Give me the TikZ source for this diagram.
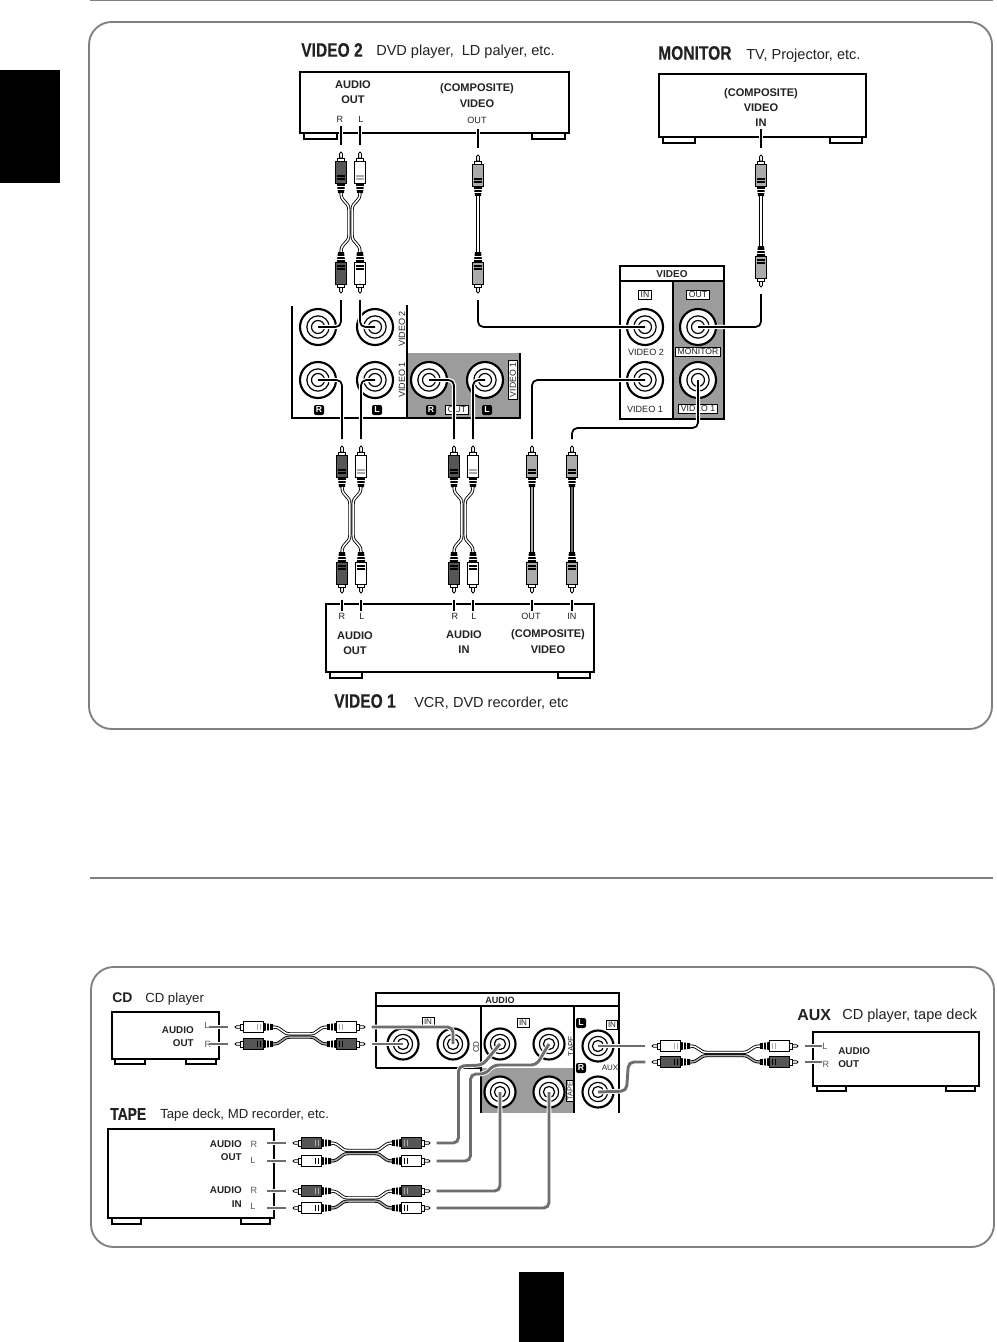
\documentclass[tikz,border=0pt]{standalone}
\usepackage{fontspec}
\setmainfont{Liberation Sans}
\newfontfamily\narrowhead[FakeStretch=0.8,FakeBold=0.2]{Liberation Sans Bold}
\usetikzlibrary{calc,fit}
\definecolor{ruleg}{HTML}{808080}
\definecolor{panelg}{HTML}{9C9C9C}
\definecolor{plugdk}{HTML}{565656}
\definecolor{plugmd}{HTML}{ABABAB}
\definecolor{wireg}{HTML}{6E6E6E}
\definecolor{inkk}{HTML}{222222}
\tikzset{
  frame/.style={draw=ruleg,line width=1.4pt,rounded corners=17pt},
  panel/.style={draw=black,line width=1.1pt},
  devbox/.style={rectangle,draw=black,line width=1.3pt,inner sep=0pt,fill=white},
  foot/.style={draw=black,line width=1pt,fill=white},
  jack/.style={circle,draw=black,fill=white,line width=1.6pt,inner sep=0pt,minimum size=#1*.75pt,
    path picture={\draw[black,line width=.9pt] (path picture bounding box.center) circle ({#1*.31}) circle ({#1*.18});}},
  jack/.default=36,
  wire/.style={draw=black,line width=1.3pt,rounded corners=4pt,preaction={draw=white,line width=3.2pt}},
  wiregr/.style={draw=wireg,line width=2.2pt,rounded corners=4pt,preaction={draw=white,line width=3.6pt}},
  cable/.style={draw=black,line width=.65pt,double=#1,double distance=1.1pt},
  cable/.default=white,
  badge/.style={fill=black,rounded corners=1.5pt,text=white,font=\bfseries\fontsize{6.5}{7}\selectfont,minimum size=7.5pt,inner sep=0pt},
  tag/.style={draw=black,fill=white,line width=.7pt,text=inkk,font=\fontsize{6.5}{7}\selectfont,inner xsep=1.5pt,inner ysep=1pt},
  small/.style={text=inkk,font=\fontsize{6.8}{7}\selectfont,inner sep=0pt},
  bold/.style={text=inkk,font=\bfseries\fontsize{8.3}{9}\selectfont,inner sep=0pt},
  boldlow/.style={text=inkk,font=\bfseries\fontsize{7.4}{8}\selectfont,inner sep=0pt},
  head/.style={anchor=west,text=inkk,font=\narrowhead\fontsize{14.6}{15}\selectfont,inner sep=0pt},
  note/.style={anchor=west,text=inkk,font=\fontsize{10.9}{12}\selectfont,inner sep=0pt},
  notelow/.style={anchor=west,text=inkk,font=\fontsize{9.9}{11}\selectfont,inner sep=0pt},
  pics/rca/.style 2 args={code={
    \draw[black,line width=.6pt,fill=white] (-1.4,6) -- (-1.4,1.5) -- (0,0) -- (1.4,1.5) -- (1.4,6) -- cycle;
    \draw[black,line width=.6pt,fill=white] (-3.2,6) rectangle (3.2,9);
    \draw[black,line width=.7pt,fill=#1] (-5.5,9) rectangle (5.5,31);
    \draw[#2,line width=.9pt] (-3.6,24) -- (3.6,24) (-3.6,27) -- (3.6,27);
    \fill[black] (-4.2,31) -- (4.2,31) -- (3,41) -- (-3,41) -- cycle;
    \draw[white,line width=.5pt] (-4.2,34) -- (4.2,34) (-4.2,37) -- (4.2,37);
    \coordinate (-end) at (0,41);
    \coordinate (-lead) at (0,-7);
  }},
}
% vertical pair: name, x of R, x of L, y of upper tip, y of lower tip
\newcommand{\rcapairv}[5]{
  \pic (#1rt) at (#2,#4) {rca={plugdk}{black}};
  \pic (#1lt) at (#3,#4) {rca={white}{plugmd}};
  \pic[rotate=180] (#1rb) at (#2,#5) {rca={plugdk}{black}};
  \pic[rotate=180] (#1lb) at (#3,#5) {rca={white}{black}};
  \pgfmathsetmacro\xmid{(#2+#3)/2}
  \draw[cable] (#1rt-end) .. controls +(0,10) and +(0,-9) .. (\xmid-1.6,#4+58) -- (\xmid-1.6,#5-58) .. controls +(0,9) and +(0,-10) .. (#1rb-end);
  \draw[cable] (#1lt-end) .. controls +(0,10) and +(0,-9) .. (\xmid+1.6,#4+58) -- (\xmid+1.6,#5-58) .. controls +(0,9) and +(0,-10) .. (#1lb-end);
}
% single composite lead: name, x, y of upper tip, y of lower tip, inner colour of the lead
\newcommand{\rcasingle}[5]{
  \pic (#1t) at (#2,#3) {rca={plugmd}{black}};
  \pic[rotate=180] (#1b) at (#2,#4) {rca={plugmd}{black}};
  \draw[cable=#5] (#1t-end) -- (#1b-end);
}
% horizontal pair: name, left tip, right tip, upper y, lower y, upper fill, lower fill
\newcommand{\rcapairh}[7]{
  \pic[rotate=90,scale=.93] (#1tl) at (#2,#4) {rca={#6}{plugmd}};
  \pic[rotate=90,scale=.93] (#1bl) at (#2,#5) {rca={#7}{black}};
  \pic[rotate=-90,scale=.93] (#1tr) at (#3,#4) {rca={#6}{plugmd}};
  \pic[rotate=-90,scale=.93] (#1br) at (#3,#5) {rca={#7}{black}};
  \pgfmathsetmacro\ymid{(#4+#5)/2}
  \draw[cable] (#1tl-end) .. controls +(9,0) and +(-8,0) .. (#2+55,\ymid-1.6) -- (#3-55,\ymid-1.6) .. controls +(8,0) and +(-9,0) .. (#1tr-end);
  \draw[cable=plugmd] (#1bl-end) .. controls +(9,0) and +(-8,0) .. (#2+55,\ymid+1.6) -- (#3-55,\ymid+1.6) .. controls +(8,0) and +(-9,0) .. (#1br-end);
}
\begin{document}
\begin{tikzpicture}[x=.75pt,y=-.75pt,font=\fontsize{7}{8}\selectfont]
  \path[use as bounding box] (0,0) rectangle (996,1342);
  \fill[white] (0,0) rectangle (996,1342);
  % page furniture
  \draw[ruleg,line width=.8pt] (90,.6) -- (993,.6);
  \draw[ruleg,line width=.8pt] (90,878) -- (993,878);
  \fill[black] (0,70) rectangle (60,183);
  \fill[black] (519,1272) rectangle (564,1342);
  \draw[frame] (89,22) rectangle (992,729);
  \draw[frame] (91,967) rectangle (994,1247);

  % video hookup: devices
  \draw[foot] (304,133) rectangle (337,139);
  \draw[foot] (532,133) rectangle (565,139);
  \node[devbox,fit={(300,72)(569,133)}] (vidtwo) {};
  \draw[foot] (663,137) rectangle (695,143);
  \draw[foot] (830,137) rectangle (862,143);
  \node[devbox,fit={(659,74)(866,137)}] (monitor) {};
  \draw[foot] (330,672) rectangle (362,678);
  \draw[foot] (558,672) rectangle (590,678);
  \node[devbox,fit={(326,604)(594,672)}] (vidone) {};
  \node[head] (hvid2) at (301,50) {VIDEO 2};
  \node[note] (nvid2) at (376,52) {DVD player,\ \ LD palyer, etc.};
  \node[head] (hmon) at (658,53) {MONITOR};
  \node[note] (nmon) at (746,56) {TV, Projector, etc.};
  \node[head] (hvid1) at (334,701) {VIDEO 1};
  \node[note] (nvid1) at (414,703) {VCR, DVD recorder, etc};
  \foreach \name/\x/\y/\txt in {ba/353/85/AUDIO,bb/353/100/OUT,bc/477/89/(COMPOSITE),bd/477/104/VIDEO,
    be/761/94/(COMPOSITE),bf/761/108/VIDEO,bg/761/123/IN,bh/355/636/AUDIO,bi/355/651/OUT,
    bj/464/635/AUDIO,bk/464/650/IN,bm/548/635/(COMPOSITE),bn/548/650/VIDEO}
    \node[bold] (\name) at (\x,\y) {\txt};
  \foreach \name/\x/\y/\txt in {sa/340/119/R,sb/361/119/L,sc/477/120/OUT,sd/342/616/R,se/362/616/L,
    sf/455/616/R,sg/474/616/L,sh/531/616/OUT,si/572/616/IN,sj/646/352/VIDEO 2,sk/645/409/VIDEO 1}
    \node[small] (\name) at (\x,\y) {\txt};

  % video hookup: rear panels
  \fill[panelg] (407,353) rectangle (520,418);
  \draw[panel] (292,306) -- (292,418) -- (520,418) -- (520,353);
  \draw[panel] (407,305) -- (407,418);
  \fill[panelg] (673,281) rectangle (724,419);
  \draw[panel] (620,266) rectangle (724,419);
  \draw[panel] (620,281) -- (724,281);
  \draw[panel] (673,281) -- (673,419);
  \node[text=inkk,font=\bfseries\fontsize{7.5}{8}\selectfont,inner sep=0pt] (tvideo) at (672,274) {VIDEO};
  \node[small,rotate=90] (rv2) at (402,329) {VIDEO 2};
  \node[small,rotate=90] (rv1) at (402,380) {VIDEO 1};
  \node[tag] (tv1) at (513,380) [rotate=90] {VIDEO 1};
  \node[badge] (br1) at (319,410) {R};
  \node[badge] (bl1) at (377,410) {L};
  \node[badge] (br2) at (431,410) {R};
  \node[badge] (bl2) at (487,410) {L};
  \node[tag] (tout) at (457,410) {OUT};
  \node[tag] (tin) at (645,295) {IN};
  \node[tag] (tvout) at (698,295) {OUT};
  \node[tag] (tmon) at (698,352) {MONITOR};
  \node[tag] (tvone) at (698,409) {VIDEO 1};
  \foreach \name/\x/\y in {jrb/318/327,jlb/375/327,jra/318/380,jla/375/380,jor/429/380,jol/485/380,
    jvb/645/327,jva/645/380,jmon/698/327,jvo/698/380}
    \node[jack] (\name) at (\x,\y) {};

  % video hookup: leads
  \rcapairv{vt}{341}{360}{152}{293}
  \rcasingle{ct}{478}{155}{293}{white}
  \rcasingle{mn}{761}{155}{287}{white}
  \rcapairv{va}{342}{361}{446}{593}
  \rcapairv{vb}{454}{473}{446}{593}
  \rcasingle{co}{532}{446}{593}{plugmd}
  \rcasingle{ci}{572}{446}{593}{wireg}
  \draw[wire] (vtrt-lead) -- ++(0,-19);
  \draw[wire] (vtlt-lead) -- ++(0,-19);
  \draw[wire] (ctt-lead) -- ++(0,-19);
  \draw[wire] (mnt-lead) -- ++(0,-19);
  \draw[wire] (vtrb-lead) |- (jrb.center);
  \draw[wire] (vtlb-lead) |- (jlb.center);
  \draw[wire] (ctb-lead) |- (jvb.center);
  \draw[wire] (mnb-lead) |- (jmon.center);
  \draw[wire] (vart-lead) |- (jra.center);
  \draw[wire] (valt-lead) |- (jla.center);
  \draw[wire] (vbrt-lead) |- (jor.center);
  \draw[wire] (vblt-lead) |- (jol.center);
  \draw[wire] (cot-lead) |- (jva.center);
  \draw[wire] (cit-lead) -- ++(0,-11) -| (jvo.center);
  \foreach \plug in {varb,valb,vbrb,vblb,cob,cib}
    \draw[wire] (\plug-lead) -- ++(0,11);

  % audio hookup: devices
  \draw[foot] (115,1059) rectangle (145,1064);
  \draw[foot] (186,1059) rectangle (216,1064);
  \node[devbox,fit={(112,1012)(219,1059)}] (cdbox) {};
  \draw[foot] (112,1218) rectangle (141,1224);
  \draw[foot] (241,1218) rectangle (270,1224);
  \node[devbox,fit={(108,1129)(274,1218)}] (tapebox) {};
  \draw[foot] (817,1086) rectangle (846,1091);
  \draw[foot] (946,1086) rectangle (975,1091);
  \node[devbox,fit={(813,1032)(979,1086)}] (auxbox) {};
  \node[anchor=west,text=inkk,font=\bfseries\fontsize{10.5}{12}\selectfont,inner sep=0pt] (hcd) at (112,998) {CD};
  \node[notelow] (ncd) at (145,999) {CD player};
  \node[head,font=\narrowhead\fontsize{13}{14}\selectfont] (htape) at (110,1114) {TAPE};
  \node[notelow] (ntape) at (160,1115) {Tape deck, MD recorder, etc.};
  \node[anchor=west,text=inkk,font=\bfseries\fontsize{12}{13}\selectfont,inner sep=0pt] (haux) at (797,1015) {AUX};
  \node[note] (naux) at (842,1016) {CD player, tape deck};
  \foreach \name/\y/\txt in {la/1030/AUDIO,lb/1043/OUT}
    \node[boldlow,anchor=east] (\name) at (194,\y) {\txt};
  \foreach \name/\y/\txt in {lc/1144/AUDIO,ld/1157/OUT,le/1190/AUDIO,lf/1204/IN}
    \node[boldlow,anchor=east] (\name) at (242,\y) {\txt};
  \foreach \name/\y/\txt in {lg/1051/AUDIO,lh/1064/OUT}
    \node[boldlow,anchor=west] (\name) at (838,\y) {\txt};
  \foreach \name/\x/\y/\txt in {ma/207/1025/L,mb/208/1044/R,mc/254/1144/R,md/253/1160/L,me/254/1190/R,
    mf/253/1206/L,mg/825/1046/L,mh/826/1064/R}
    \node[small,text=black!65] (\name) at (\x,\y) {\txt};

  % audio hookup: rear panel
  \fill[panelg] (481,1068) rectangle (574,1113);
  \draw[panel] (376,1068) -- (376,993) -- (619,993) -- (619,1113);
  \draw[panel] (376,1006) -- (619,1006);
  \draw[panel] (376,1068) -- (481,1068);
  \draw[panel] (481,1006) -- (481,1113);
  \draw[panel] (574,1006) -- (574,1113);
  \node[text=inkk,font=\bfseries\fontsize{6.8}{7}\selectfont,inner sep=0pt] (taudio) at (500,1000) {AUDIO};
  \node[tag,font=\fontsize{6}{6}\selectfont] (ta) at (428,1022) {IN};
  \node[tag,font=\fontsize{6}{6}\selectfont] (tb) at (523,1023) {IN};
  \node[tag,font=\fontsize{6}{6}\selectfont,inner xsep=1pt] (tc) at (612,1025) {IN};
  \node[small,rotate=90,font=\fontsize{6}{6}\selectfont] (rcd) at (476,1047) {CD};
  \node[small,rotate=90,font=\fontsize{6}{6}\selectfont] (rtape) at (571,1046) {TAPE};
  \node[small,font=\fontsize{6}{6}\selectfont] (raux) at (610,1068) {AUX};
  \node[tag,rotate=90,font=\fontsize{5.5}{6}\selectfont,inner xsep=1pt,inner ysep=.5pt] (td) at (570,1091) {TAPE};
  \node[badge] (be1) at (581,1023) {L};
  \node[badge] (be2) at (581,1068) {R};
  \foreach \name/\x/\y in {jca/403/1044,jcb/453/1044,jta/500/1044,jtb/549/1044,jtc/500/1092,jtd/549/1092,
    jal/598/1046,jar/598/1092}
    \node[jack=31] (\name) at (\x,\y) {};

  % audio hookup: leads
  \rcapairh{cd}{235}{365}{1027}{1044}{white}{plugdk}
  \rcapairh{to}{293}{430}{1143}{1161}{plugdk}{white}
  \rcapairh{ti}{293}{430}{1191}{1208}{plugdk}{white}
  \rcapairh{ax}{652}{798}{1046}{1062}{white}{plugdk}
  \foreach \plug in {cdtl,cdbl,totl,tobl,titl,tibl}
    \draw[wiregr] (\plug-lead) -- ++(-19,0);
  \foreach \plug in {axtr,axbr}
    \draw[wiregr] (\plug-lead) -- ++(17,0);
  \draw[wiregr] (cdtr-lead) -| (jcb.center);
  \draw[wiregr] (cdbr-lead) -- (jca.center);
  \draw[wiregr] (totr-lead) -- ++(22,0) -- ++(0,-77) -- ++(24,-1) -- (jta.center);
  \draw[wiregr] (tobr-lead) -- ++(34,0) -- ++(0,-87) -- ++(15,0) -- ++(8,-9) -- ++(43,0) -- (jtb.center);
  \draw[wiregr] (titr-lead) -| (jtc.center);
  \draw[wiregr] (tibr-lead) -| (jtd.center);
  \draw[wiregr] (axtl-lead) -- (jal.center);
  \draw[wiregr] (axbl-lead) -- ++(-17,0) -- ++(-2,29) -- (jar.center);
\end{tikzpicture}
\end{document}
